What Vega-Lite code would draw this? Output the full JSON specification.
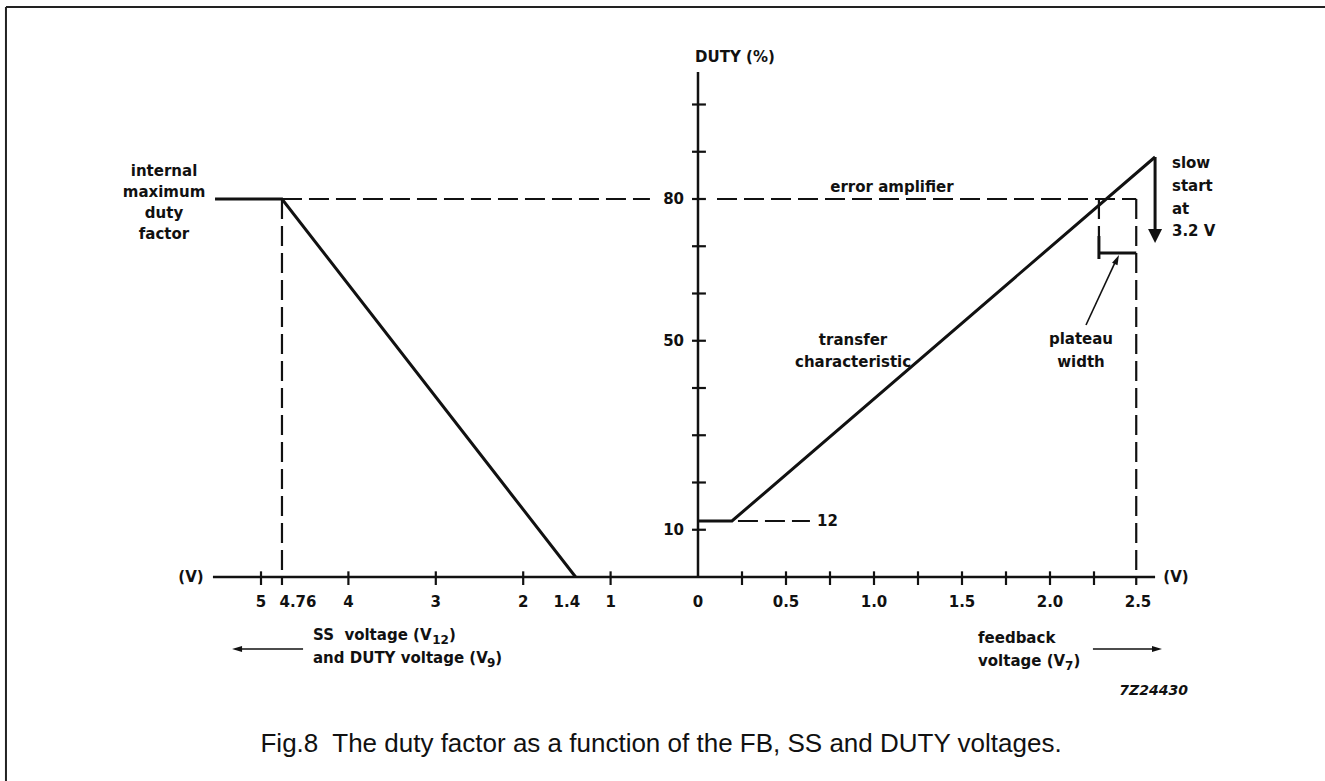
{
  "$schema": "https://vega.github.io/schema/vega-lite/v6.json",
  "width": 1325,
  "height": 781,
  "autosize": {"type": "none"},
  "padding": 0,
  "background": "white",
  "config": {"view": {"stroke": null}},
  "datasets": {
    "ssLine": [{"s": 5.526, "d": 80, "i": 0}, {"s": 4.76, "d": 80, "i": 1}, {"s": 1.4, "d": 0, "i": 2}],
    "ssDash": [{"s": 4.76, "s2": 0.55, "d": 80, "d2": 80}, {"s": 4.76, "s2": 4.76, "d": 80, "d2": -1.7}],
    "ssTicks": [{"s": 5}, {"s": 4}, {"s": 3}, {"s": 2}, {"s": 1}],
    "ssLabels": [{"s": 5, "t": "5"}, {"s": 4.577, "t": "4.76"}, {"s": 4, "t": "4"}, {"s": 3, "t": "3"}, {"s": 2, "t": "2"}, {"s": 1.5, "t": "1.4"}, {"s": 1, "t": "1"}],
    "frame": [{"x": -3.932, "x2": 3.6, "d": 120.63, "d2": 120.63}, {"x": -3.932, "x2": -3.932, "d": 120.63, "d2": -44}],
    "axes": [{"x": -2.756, "x2": 2.597, "d": 0, "d2": 0}, {"x": 0, "x2": 0, "d": 0, "d2": 106.88}],
    "fbLine": [{"x": 0, "d": 11.85, "i": 0}, {"x": 0.193, "d": 11.85, "i": 1}, {"x": 2.597, "d": 88.89, "i": 2}],
    "thick": [{"x": 2.597, "x2": 2.597, "d": 88.89, "d2": 73.0}, {"x": 2.278, "x2": 2.49, "d": 68.57, "d2": 68.57}, {"x": 2.278, "x2": 2.278, "d": 72.17, "d2": 67.3}],
    "thin": [{"x": 2.244, "x2": 2.6, "d": -15.24, "d2": -15.24}, {"x": -2.244, "x2": -2.61, "d": -15.24, "d2": -15.24}, {"x": 2.2045, "x2": 2.375, "d": 53.33, "d2": 67.0}],
    "dashed": [{"x": 0.108, "x2": 2.49, "d": 80, "d2": 80}, {"x": 2.278, "x2": 2.278, "d": 80, "d2": 72.17}, {"x": 2.49, "x2": 2.49, "d": 80, "d2": -1.7}, {"x": 0.227, "x2": 0.636, "d": 11.85, "d2": 11.85}],
    "xTicks": [{"x": 0.25}, {"x": 0.5}, {"x": 0.75}, {"x": 1.0}, {"x": 1.25}, {"x": 1.5}, {"x": 1.75}, {"x": 2.0}, {"x": 2.25}],
    "yTicks": [{"d": 10}, {"d": 20}, {"d": 30}, {"d": 40}, {"d": 50}, {"d": 60}, {"d": 70}, {"d": 80}, {"d": 90}, {"d": 100}],
    "xLabels": [{"x": 0, "t": "0"}, {"x": 0.5, "t": "0.5"}, {"x": 1.0, "t": "1.0"}, {"x": 1.5, "t": "1.5"}, {"x": 2.0, "t": "2.0"}, {"x": 2.5, "t": "2.5"}],
    "yLabels": [{"d": 80, "t": "80"}, {"d": 50, "t": "50"}, {"d": 10, "t": "10"}],
    "centerNotes": [
      {"x": 0.21, "d": 110.05, "t": "DUTY (%)"},
      {"x": 1.102, "d": 82.54, "t": "error amplifier"},
      {"x": 0.881, "d": 50.16, "t": "transfer"},
      {"x": 0.881, "d": 45.5, "t": "characteristic"},
      {"x": 2.176, "d": 50.37, "t": "plateau"},
      {"x": 2.176, "d": 45.5, "t": "width"},
      {"x": -2.881, "d": 0, "t": "(V)"},
      {"x": 2.716, "d": 0, "t": "(V)"},
      {"x": -3.034, "d": 85.93, "t": "internal"},
      {"x": -3.034, "d": 81.48, "t": "maximum"},
      {"x": -3.034, "d": 77.04, "t": "duty"},
      {"x": -3.034, "d": 72.59, "t": "factor"}
    ],
    "leftNotes": [
      {"x": 0.676, "d": 11.85, "t": "12"},
      {"x": 2.693, "d": 87.62, "t": "slow"},
      {"x": 2.693, "d": 82.75, "t": "start"},
      {"x": 2.693, "d": 77.88, "t": "at"},
      {"x": 2.693, "d": 73.23, "t": "3.2 V"},
      {"x": -2.1875, "d": -12.28, "t": "SS\u00a0 voltage (V"},
      {"x": -1.4153, "d": -12.28, "t": ")"},
      {"x": -2.1875, "d": -17.14, "t": "and DUTY voltage (V"},
      {"x": -1.1517, "d": -17.14, "t": ")"},
      {"x": 1.591, "d": -12.91, "t": "feedback"},
      {"x": 1.591, "d": -17.78, "t": "voltage (V"},
      {"x": 2.1335, "d": -17.78, "t": ")"}
    ],
    "subs": [
      {"x": -1.5102, "d": -12.28, "t": "12"},
      {"x": -1.1994, "d": -17.14, "t": "9"},
      {"x": 2.0858, "d": -17.78, "t": "7"}
    ],
    "code": [{"x": 2.784, "d": -24.13, "t": "7Z24430"}],
    "caption": [{"x": -0.21, "d": -35.34, "t": "Fig.8\u00a0 The duty factor as a function of the FB, SS and DUTY voltages."}],
    "headDown": [{"x": 2.597, "d": 72.17}],
    "headRight": [{"x": 2.608, "d": -15.24}],
    "headLeft": [{"x": -2.619, "d": -15.24}],
    "headPlateau": [{"x": 2.38, "d": 67.2}]
  },
  "layer": [
    {
      "layer": [
        {
          "data": {"name": "ssLine"},
          "mark": {"type": "line", "color": "#111", "strokeWidth": 3},
          "encoding": {
            "x": {"field": "s", "type": "quantitative", "scale": {"domain": [-7.174, 7.9863], "reverse": true, "nice": false, "zero": false}, "axis": null},
            "y": {"field": "d", "type": "quantitative", "scale": {"domain": [-43.175, 122.116], "nice": false, "zero": false}, "axis": null},
            "order": {"field": "i"}
          }
        },
        {
          "data": {"name": "ssDash"},
          "mark": {"type": "rule", "color": "#111", "strokeWidth": 2.2, "strokeDash": [20, 7]},
          "encoding": {
            "x": {"field": "s", "type": "quantitative", "scale": {"domain": [-7.174, 7.9863], "reverse": true, "nice": false, "zero": false}, "axis": null},
            "x2": {"field": "s2"},
            "y": {"field": "d", "type": "quantitative", "scale": {"domain": [-43.175, 122.116], "nice": false, "zero": false}, "axis": null},
            "y2": {"field": "d2"}
          }
        },
        {
          "data": {"name": "ssTicks"},
          "mark": {"type": "rule", "color": "#111", "strokeWidth": 2.2},
          "encoding": {
            "x": {"field": "s", "type": "quantitative", "scale": {"domain": [-7.174, 7.9863], "reverse": true, "nice": false, "zero": false}, "axis": null},
            "y": {"datum": 1.2, "type": "quantitative", "scale": {"domain": [-43.175, 122.116], "nice": false, "zero": false}, "axis": null},
            "y2": {"datum": -1.7}
          }
        },
        {
          "data": {"name": "ssLabels"},
          "mark": {"type": "text", "font": "DejaVu Sans", "fontWeight": "bold", "fontSize": 15, "align": "center", "baseline": "middle", "color": "#111"},
          "encoding": {
            "x": {"field": "s", "type": "quantitative", "scale": {"domain": [-7.174, 7.9863], "reverse": true, "nice": false, "zero": false}, "axis": null},
            "y": {"datum": -5.29, "type": "quantitative", "scale": {"domain": [-43.175, 122.116], "nice": false, "zero": false}, "axis": null},
            "text": {"field": "t", "type": "nominal"}
          }
        }
      ]
    },
    {
      "layer": [
        {
          "data": {"name": "frame"},
          "mark": {"type": "rule", "color": "#222", "strokeWidth": 2},
          "encoding": {
            "x": {"field": "x", "type": "quantitative", "scale": {"domain": [-3.9659, 3.5625], "nice": false, "zero": false}, "axis": null},
            "x2": {"field": "x2"},
            "y": {"field": "d", "type": "quantitative", "scale": {"domain": [-43.175, 122.116], "nice": false, "zero": false}, "axis": null},
            "y2": {"field": "d2"}
          }
        },
        {
          "data": {"name": "axes"},
          "mark": {"type": "rule", "color": "#111", "strokeWidth": 2.5},
          "encoding": {
            "x": {"field": "x", "type": "quantitative", "scale": {"domain": [-3.9659, 3.5625], "nice": false, "zero": false}, "axis": null},
            "x2": {"field": "x2"},
            "y": {"field": "d", "type": "quantitative", "scale": {"domain": [-43.175, 122.116], "nice": false, "zero": false}, "axis": null},
            "y2": {"field": "d2"}
          }
        },
        {
          "data": {"name": "fbLine"},
          "mark": {"type": "line", "color": "#111", "strokeWidth": 3},
          "encoding": {
            "x": {"field": "x", "type": "quantitative", "scale": {"domain": [-3.9659, 3.5625], "nice": false, "zero": false}, "axis": null},
            "y": {"field": "d", "type": "quantitative", "scale": {"domain": [-43.175, 122.116], "nice": false, "zero": false}, "axis": null},
            "order": {"field": "i"}
          }
        },
        {
          "data": {"name": "thick"},
          "mark": {"type": "rule", "color": "#111", "strokeWidth": 3},
          "encoding": {
            "x": {"field": "x", "type": "quantitative", "scale": {"domain": [-3.9659, 3.5625], "nice": false, "zero": false}, "axis": null},
            "x2": {"field": "x2"},
            "y": {"field": "d", "type": "quantitative", "scale": {"domain": [-43.175, 122.116], "nice": false, "zero": false}, "axis": null},
            "y2": {"field": "d2"}
          }
        },
        {
          "data": {"name": "thin"},
          "mark": {"type": "rule", "color": "#111", "strokeWidth": 1.6},
          "encoding": {
            "x": {"field": "x", "type": "quantitative", "scale": {"domain": [-3.9659, 3.5625], "nice": false, "zero": false}, "axis": null},
            "x2": {"field": "x2"},
            "y": {"field": "d", "type": "quantitative", "scale": {"domain": [-43.175, 122.116], "nice": false, "zero": false}, "axis": null},
            "y2": {"field": "d2"}
          }
        },
        {
          "data": {"name": "dashed"},
          "mark": {"type": "rule", "color": "#111", "strokeWidth": 2.2, "strokeDash": [20, 7]},
          "encoding": {
            "x": {"field": "x", "type": "quantitative", "scale": {"domain": [-3.9659, 3.5625], "nice": false, "zero": false}, "axis": null},
            "x2": {"field": "x2"},
            "y": {"field": "d", "type": "quantitative", "scale": {"domain": [-43.175, 122.116], "nice": false, "zero": false}, "axis": null},
            "y2": {"field": "d2"}
          }
        },
        {
          "data": {"name": "xTicks"},
          "mark": {"type": "rule", "color": "#111", "strokeWidth": 2.2},
          "encoding": {
            "x": {"field": "x", "type": "quantitative", "scale": {"domain": [-3.9659, 3.5625], "nice": false, "zero": false}, "axis": null},
            "y": {"datum": 1.2, "type": "quantitative", "scale": {"domain": [-43.175, 122.116], "nice": false, "zero": false}, "axis": null},
            "y2": {"datum": -1.7}
          }
        },
        {
          "data": {"name": "yTicks"},
          "mark": {"type": "rule", "color": "#111", "strokeWidth": 2.2},
          "encoding": {
            "x": {"datum": -0.034, "type": "quantitative", "scale": {"domain": [-3.9659, 3.5625], "nice": false, "zero": false}, "axis": null},
            "x2": {"datum": 0.045},
            "y": {"field": "d", "type": "quantitative", "scale": {"domain": [-43.175, 122.116], "nice": false, "zero": false}, "axis": null}
          }
        },
        {
          "data": {"name": "xLabels"},
          "mark": {"type": "text", "font": "DejaVu Sans", "fontWeight": "bold", "fontSize": 15, "align": "center", "baseline": "middle", "color": "#111"},
          "encoding": {
            "x": {"field": "x", "type": "quantitative", "scale": {"domain": [-3.9659, 3.5625], "nice": false, "zero": false}, "axis": null},
            "y": {"datum": -5.29, "type": "quantitative", "scale": {"domain": [-43.175, 122.116], "nice": false, "zero": false}, "axis": null},
            "text": {"field": "t", "type": "nominal"}
          }
        },
        {
          "data": {"name": "yLabels"},
          "mark": {"type": "text", "font": "DejaVu Sans", "fontWeight": "bold", "fontSize": 15, "align": "right", "baseline": "middle", "color": "#111"},
          "encoding": {
            "x": {"datum": -0.0795, "type": "quantitative", "scale": {"domain": [-3.9659, 3.5625], "nice": false, "zero": false}, "axis": null},
            "y": {"field": "d", "type": "quantitative", "scale": {"domain": [-43.175, 122.116], "nice": false, "zero": false}, "axis": null},
            "text": {"field": "t", "type": "nominal"}
          }
        },
        {
          "data": {"name": "centerNotes"},
          "mark": {"type": "text", "font": "DejaVu Sans", "fontWeight": "bold", "fontSize": 15, "align": "center", "baseline": "middle", "color": "#111"},
          "encoding": {
            "x": {"field": "x", "type": "quantitative", "scale": {"domain": [-3.9659, 3.5625], "nice": false, "zero": false}, "axis": null},
            "y": {"field": "d", "type": "quantitative", "scale": {"domain": [-43.175, 122.116], "nice": false, "zero": false}, "axis": null},
            "text": {"field": "t", "type": "nominal"}
          }
        },
        {
          "data": {"name": "leftNotes"},
          "mark": {"type": "text", "font": "DejaVu Sans", "fontWeight": "bold", "fontSize": 15, "align": "left", "baseline": "middle", "color": "#111"},
          "encoding": {
            "x": {"field": "x", "type": "quantitative", "scale": {"domain": [-3.9659, 3.5625], "nice": false, "zero": false}, "axis": null},
            "y": {"field": "d", "type": "quantitative", "scale": {"domain": [-43.175, 122.116], "nice": false, "zero": false}, "axis": null},
            "text": {"field": "t", "type": "nominal"}
          }
        },
        {
          "data": {"name": "subs"},
          "mark": {"type": "text", "font": "DejaVu Sans", "fontWeight": "bold", "fontSize": 12, "align": "left", "baseline": "middle", "dy": 5, "color": "#111"},
          "encoding": {
            "x": {"field": "x", "type": "quantitative", "scale": {"domain": [-3.9659, 3.5625], "nice": false, "zero": false}, "axis": null},
            "y": {"field": "d", "type": "quantitative", "scale": {"domain": [-43.175, 122.116], "nice": false, "zero": false}, "axis": null},
            "text": {"field": "t", "type": "nominal"}
          }
        },
        {
          "data": {"name": "code"},
          "mark": {"type": "text", "font": "DejaVu Sans", "fontWeight": "bold", "fontStyle": "italic", "fontSize": 14, "align": "right", "baseline": "middle", "color": "#111"},
          "encoding": {
            "x": {"field": "x", "type": "quantitative", "scale": {"domain": [-3.9659, 3.5625], "nice": false, "zero": false}, "axis": null},
            "y": {"field": "d", "type": "quantitative", "scale": {"domain": [-43.175, 122.116], "nice": false, "zero": false}, "axis": null},
            "text": {"field": "t", "type": "nominal"}
          }
        },
        {
          "data": {"name": "caption"},
          "mark": {"type": "text", "font": "Liberation Sans", "fontSize": 26, "align": "center", "baseline": "middle", "color": "#111"},
          "encoding": {
            "x": {"field": "x", "type": "quantitative", "scale": {"domain": [-3.9659, 3.5625], "nice": false, "zero": false}, "axis": null},
            "y": {"field": "d", "type": "quantitative", "scale": {"domain": [-43.175, 122.116], "nice": false, "zero": false}, "axis": null},
            "text": {"field": "t", "type": "nominal"}
          }
        },
        {
          "data": {"name": "headDown"},
          "mark": {"type": "point", "shape": "M-1,-1L1,-1L0,1Z", "size": 196, "filled": true, "color": "#111", "opacity": 1, "strokeWidth": 0},
          "encoding": {
            "x": {"field": "x", "type": "quantitative", "scale": {"domain": [-3.9659, 3.5625], "nice": false, "zero": false}, "axis": null},
            "y": {"field": "d", "type": "quantitative", "scale": {"domain": [-43.175, 122.116], "nice": false, "zero": false}, "axis": null}
          }
        },
        {
          "data": {"name": "headRight"},
          "mark": {"type": "point", "shape": "M-1,-0.6L1,0L-1,0.6Z", "size": 100, "filled": true, "color": "#111", "opacity": 1, "strokeWidth": 0},
          "encoding": {
            "x": {"field": "x", "type": "quantitative", "scale": {"domain": [-3.9659, 3.5625], "nice": false, "zero": false}, "axis": null},
            "y": {"field": "d", "type": "quantitative", "scale": {"domain": [-43.175, 122.116], "nice": false, "zero": false}, "axis": null}
          }
        },
        {
          "data": {"name": "headLeft"},
          "mark": {"type": "point", "shape": "M1,-0.6L-1,0L1,0.6Z", "size": 100, "filled": true, "color": "#111", "opacity": 1, "strokeWidth": 0},
          "encoding": {
            "x": {"field": "x", "type": "quantitative", "scale": {"domain": [-3.9659, 3.5625], "nice": false, "zero": false}, "axis": null},
            "y": {"field": "d", "type": "quantitative", "scale": {"domain": [-43.175, 122.116], "nice": false, "zero": false}, "axis": null}
          }
        },
        {
          "data": {"name": "headPlateau"},
          "mark": {"type": "point", "shape": "M-0.6,1L0,-1L0.6,1Z", "size": 100, "angle": 25, "filled": true, "color": "#111", "opacity": 1, "strokeWidth": 0},
          "encoding": {
            "x": {"field": "x", "type": "quantitative", "scale": {"domain": [-3.9659, 3.5625], "nice": false, "zero": false}, "axis": null},
            "y": {"field": "d", "type": "quantitative", "scale": {"domain": [-43.175, 122.116], "nice": false, "zero": false}, "axis": null}
          }
        }
      ]
    }
  ],
  "resolve": {"scale": {"x": "independent"}}
}
